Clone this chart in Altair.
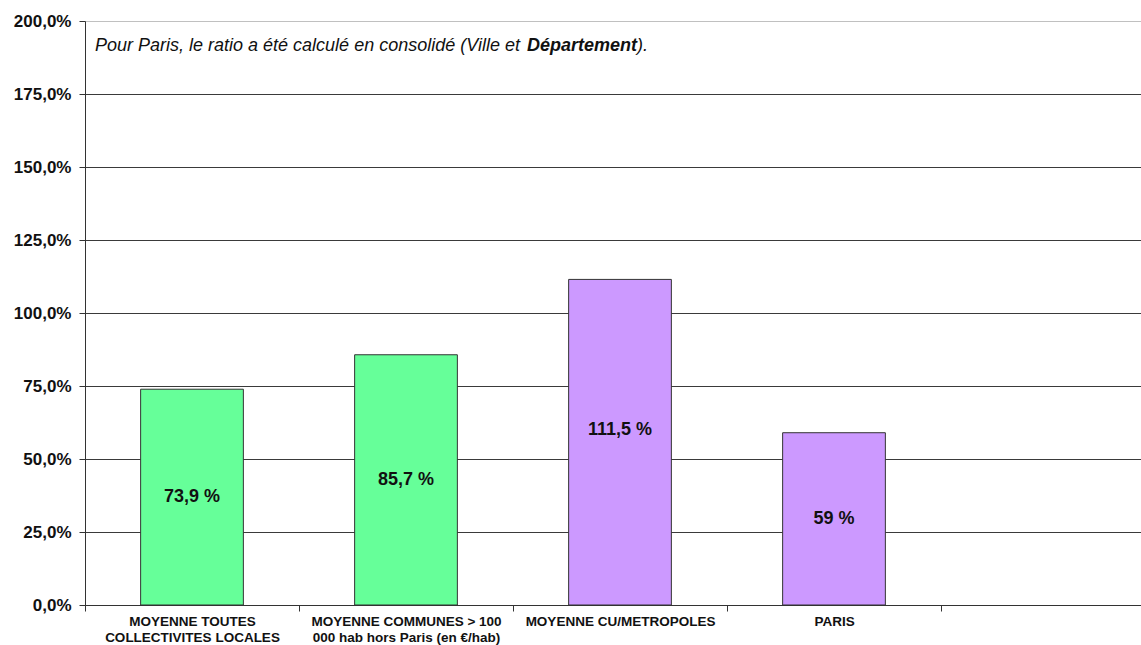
import altair as alt
import pandas as pd

categories = ["MOYENNE TOUTES|COLLECTIVITES LOCALES",
              "MOYENNE COMMUNES > 100|000 hab hors Paris (en €/hab)",
              "MOYENNE CU/METROPOLES",
              "PARIS"]
slot_domain = categories + ["_vide_"]
values = [73.9, 85.7, 111.5, 59.0]
value_labels = ["73,9 %", "85,7 %", "111,5 %", "59 %"]
label_pos = [37.0, 42.9, 59.9, 29.5]
colors = ["#66FF99", "#66FF99", "#CC99FF", "#CC99FF"]
y_ticks = [0, 25, 50, 75, 100, 125, 150, 175, 200]

note_part1 = "Pour Paris, le ratio a été calculé en consolidé (Ville et "
note_part2 = "Département"
note_part3 = ")."

df = pd.DataFrame({"cat": categories, "val": values, "lab": value_labels,
                   "col": colors, "pos": label_pos})

FONT = "Liberation Sans"

x_scale = alt.Scale(domain=slot_domain, paddingInner=0, paddingOuter=0, range=[0, 1070])

x_enc = alt.X("cat:N", scale=x_scale, sort=None,
              axis=alt.Axis(title=None, labelAngle=0, tickBand="extent",
                            labelExpr="datum.label == '_vide_' ? '' : split(datum.label, '|')",
                            labelFont=FONT, labelFontSize=13.5, labelFontWeight="bold",
                            labelColor="#111111", labelLineHeight=16, labelPadding=3,
                            labelLimit=0,
                            domainColor="#333333", tickColor="#333333", tickSize=6,
                            labelBaseline="top"))

y_scale = alt.Scale(domain=[0, 200], nice=False)

bars = alt.Chart(df).mark_bar(stroke="#333333", strokeWidth=1,
                              width=alt.RelativeBandSize(0.48)).encode(
    x=x_enc,
    y=alt.Y("val:Q", scale=y_scale,
            axis=alt.Axis(title=None, values=y_ticks,
                          labelExpr="replace(format(datum.value, '.1f'), '.', ',') + '%'",
                          labelFont=FONT, labelFontSize=17, labelFontWeight="bold",
                          labelColor="#111111", labelPadding=8,
                          domainColor="#333333", tickColor="#333333", tickSize=6,
                          grid=True,
                          gridColor={"condition": {"test": "datum.value >= 200", "value": "#c0c0c0"},
                                     "value": "#3a3a3a"},
                          gridWidth=1.2)),
    fill=alt.Fill("col:N", scale=None),
)

texts = alt.Chart(df).mark_text(font=FONT, fontSize=18, fontWeight="bold", color="#111111",
                                baseline="middle", align="center").encode(
    x=alt.X("cat:N", scale=x_scale, sort=None),
    y=alt.Y("pos:Q", scale=y_scale),
    text="lab:N",
)

note_df = pd.DataFrame({"a": [note_part1], "b": [note_part2], "c": [note_part3]})
n1 = alt.Chart(note_df).mark_text(font=FONT, fontSize=18, fontStyle="italic", color="#111111",
                                  align="left", baseline="middle").encode(
    x=alt.value(10), y=alt.value(25), text="a:N")
n2 = alt.Chart(note_df).mark_text(font=FONT, fontSize=18, fontStyle="italic", fontWeight="bold",
                                  color="#111111", align="left", baseline="middle").encode(
    x=alt.value(442), y=alt.value(25), text="b:N")
n3 = alt.Chart(note_df).mark_text(font=FONT, fontSize=18, fontStyle="italic", color="#111111",
                                  align="left", baseline="middle").encode(
    x=alt.value(552), y=alt.value(25), text="c:N")

chart = alt.layer(bars, texts, n1, n2, n3).properties(
    width=1056, height=584,
    padding={"left": 85, "top": 21, "right": 0, "bottom": 40},
    autosize="none",
).configure_view(stroke=None).configure(background="white")

chart.save("out.html", embed_options={"renderer": "svg", "actions": False})
